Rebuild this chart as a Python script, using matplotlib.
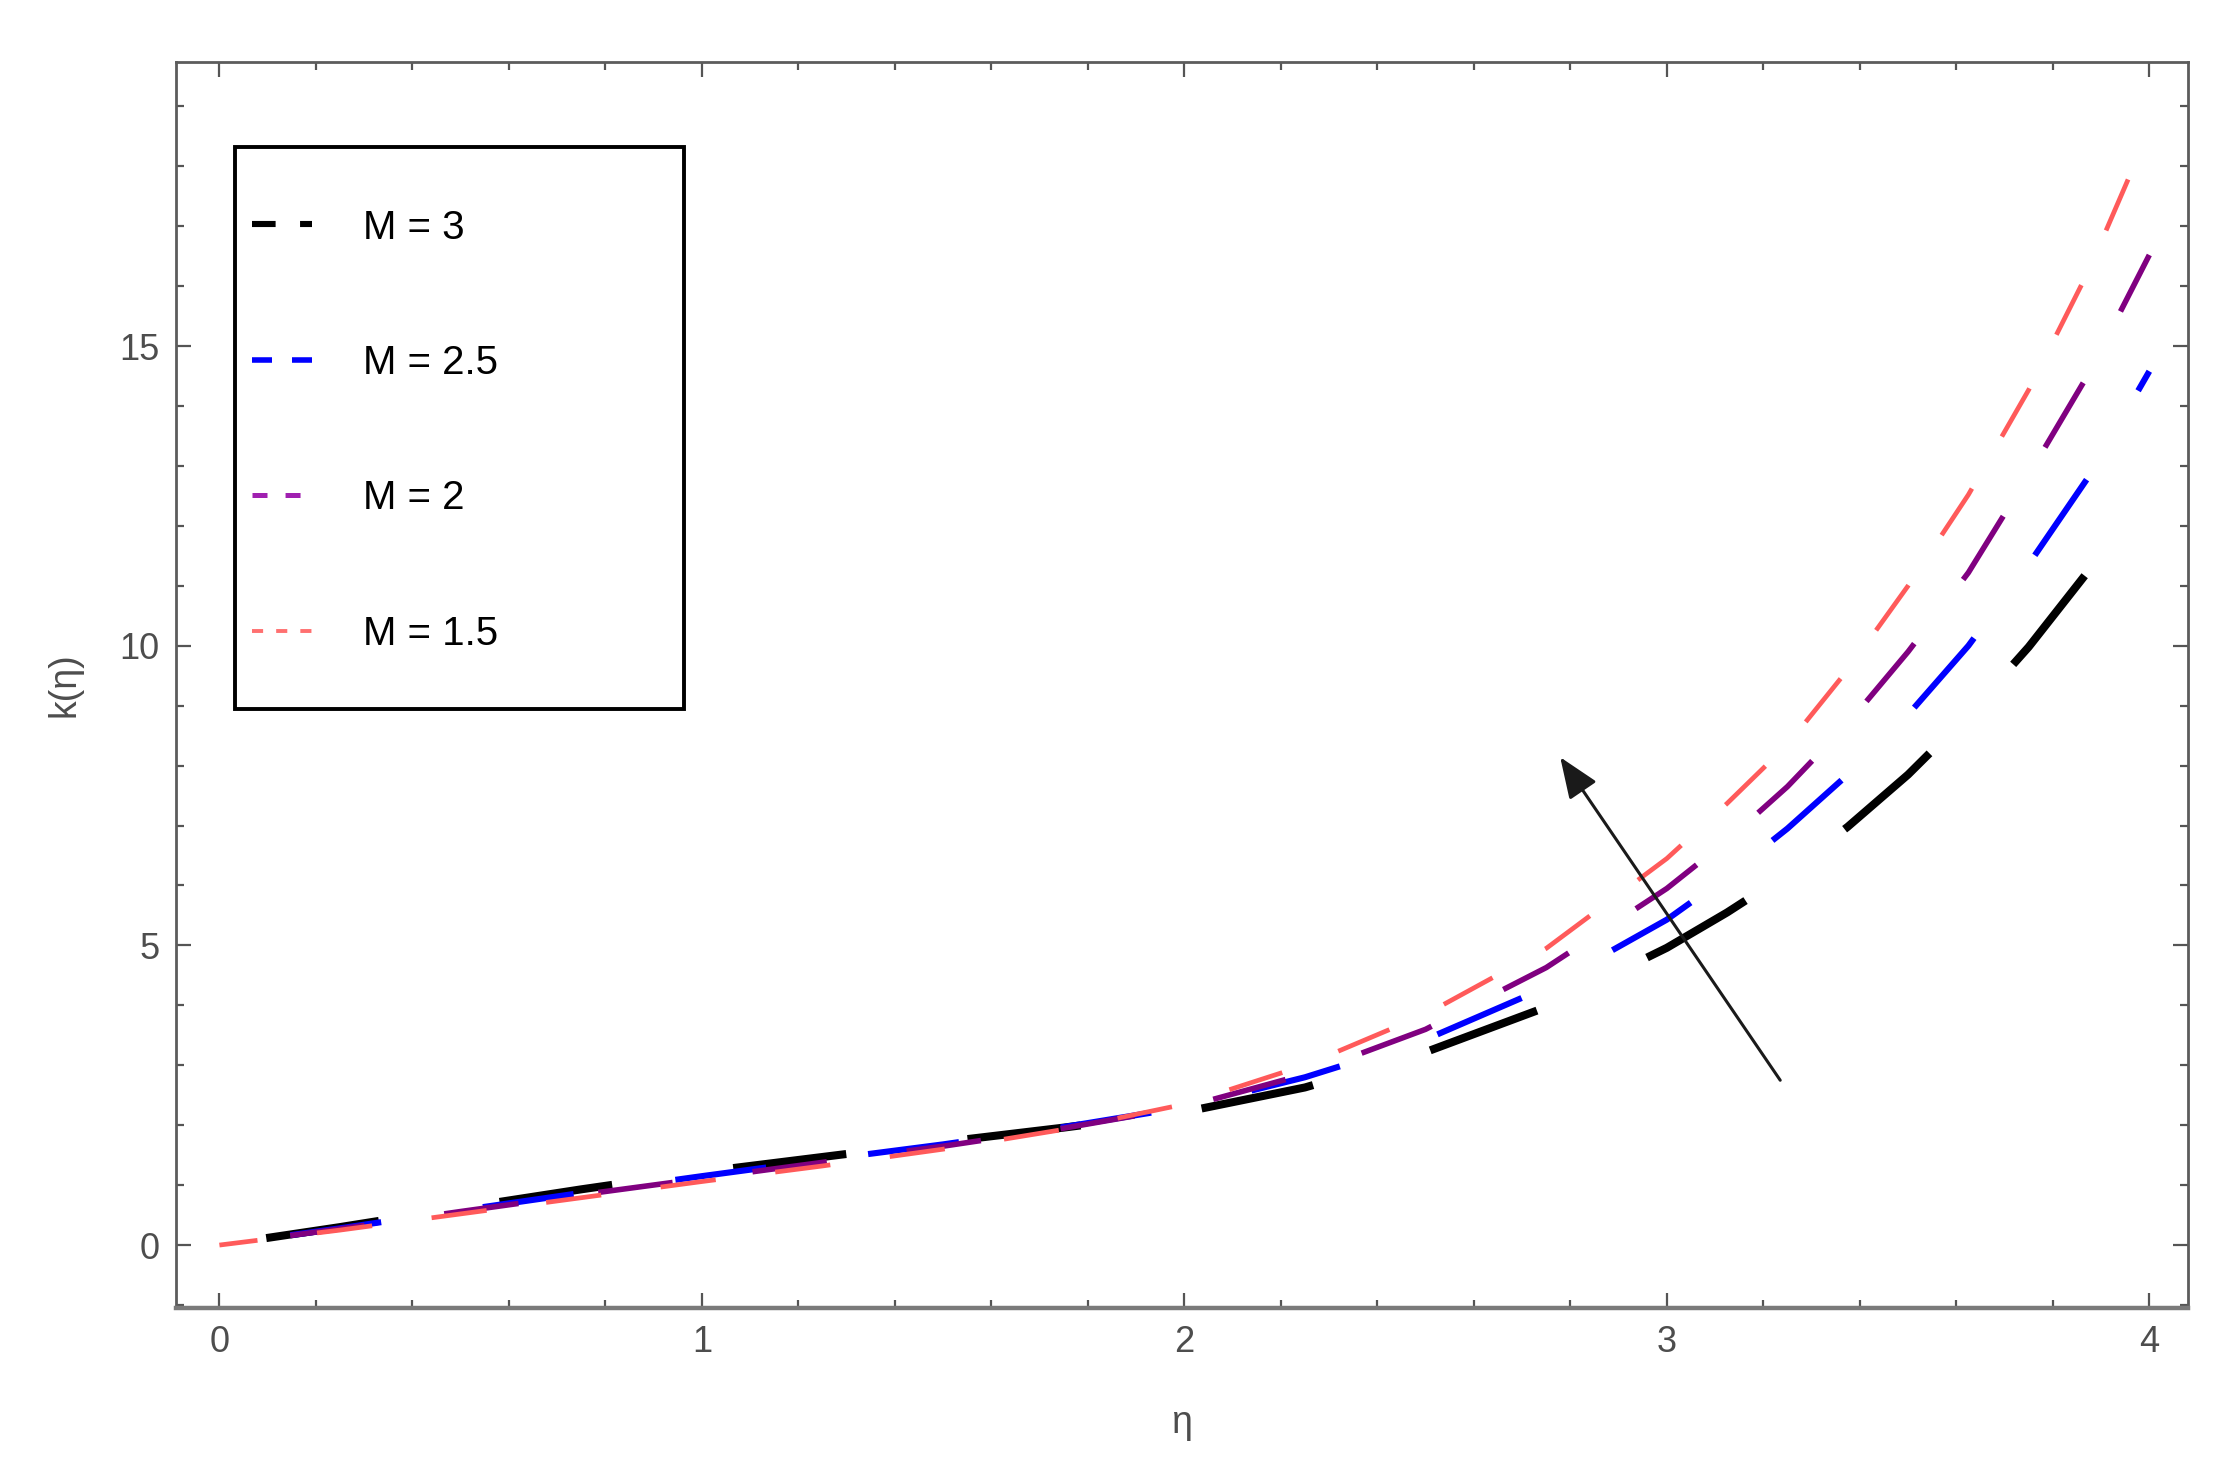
import numpy as np
import matplotlib
matplotlib.use('Agg')
import matplotlib.pyplot as plt
from matplotlib.lines import Line2D
from matplotlib.patches import Rectangle
from matplotlib.ticker import MultipleLocator

plt.rcParams['font.family'] = ['Liberation Sans', 'DejaVu Sans']
plt.rcParams['lines.scale_dashes'] = False

# values
eta = [0, 0.25, 0.5, 0.75, 1.0, 1.25, 1.5, 1.75, 2.0, 2.25, 2.5, 2.75,
       3.0, 3.125, 3.25, 3.375, 3.5, 3.625, 3.75, 3.875, 4.0]
k_m3 = [0, 0.30, 0.62, 0.93, 1.22, 1.47, 1.72, 1.96, 2.22, 2.63, 3.22, 3.97,
        4.96, 5.55, 6.20, 6.98, 7.85, 8.85, 9.98, 11.26, 12.7]
k_m25 = [0, 0.28, 0.58, 0.87, 1.15, 1.42, 1.68, 1.97, 2.30, 2.80, 3.43, 4.30,
         5.43, 6.15, 6.95, 7.85, 8.85, 10.0, 11.36, 12.83, 14.58]
k_m2 = [0, 0.27, 0.56, 0.84, 1.11, 1.38, 1.65, 1.95, 2.30, 2.85, 3.60, 4.63,
        5.95, 6.75, 7.65, 8.70, 9.90, 11.22, 12.85, 14.55, 16.52]
k_m15 = [0, 0.25, 0.52, 0.79, 1.06, 1.32, 1.60, 1.93, 2.35, 3.00, 3.85, 4.95,
         6.45, 7.37, 8.35, 9.60, 11.0, 12.52, 14.27, 16.27, 18.6]

labels = ['M = 3', 'M = 2.5', 'M = 2', 'M = 1.5']
series = [k_m3, k_m25, k_m2, k_m15]
colors = ['black', '#0000ff', '#800080', '#ff5a5a']
widths = [2.9, 2.2, 2.0, 1.7]
dashes = [(41, 44), (33, 37), (27, 29), (20, 21.6)]
dash_end = [3.866, 3.870, 3.863, 3.956]   # eta where a dash ends near the top

leg_colors = ['black', '#0000ff', '#a020b0', '#ff7070']
leg_dashes = [(8.5, 8.8), (7.2, 7.2), (5.4, 6.5), (4.0, 4.7)]
leg_widths = [2.2, 2.0, 1.8, 1.4]

arrow_tail = (3.235, 2.75)
arrow_tip = (2.779, 8.14)

fig = plt.figure(figsize=(11.16, 7.345), dpi=200)
ax = fig.add_axes([0.07885, 0.1096, 0.9014, 0.8482])
ax.set_xlim(-0.09, 4.08)
ax.set_ylim(-1.05, 19.74)


def arc_points(x, y):
    pix = ax.transData.transform(np.column_stack([x, y]))
    seg = np.hypot(*np.diff(pix, axis=0).T)
    return np.concatenate([[0], np.cumsum(seg)]) * 72.0 / fig.dpi


for vals, c, w, (on, off), e_end in zip(series, colors, widths, dashes, dash_end):
    s = arc_points(eta, vals)
    s_end = np.interp(e_end, eta, s)
    offset = (on - s_end) % (on + off)
    ax.plot(eta, vals, color=c, lw=w, linestyle=(offset, (on, off)),
            solid_capstyle='butt', dash_capstyle='butt')

ax.annotate('', xy=arrow_tip, xytext=arrow_tail,
            arrowprops=dict(arrowstyle='-|>,head_length=0.45,head_width=0.18',
                            lw=1.1, color='#1a1a1a', mutation_scale=28,
                            shrinkA=0, shrinkB=0))

# legend box
ax.add_patch(Rectangle((0.0293, 0.4807), 0.2232, 0.4511, transform=ax.transAxes,
                       facecolor='white', edgecolor='black', lw=1.4, zorder=3))
handles = [Line2D([], [], color=c, lw=w, linestyle=(0, d))
           for c, w, d in zip(leg_colors, leg_widths, leg_dashes)]
leg = ax.legend(handles, labels, loc='upper left', bbox_to_anchor=(0.0378, 0.8824),
                frameon=False, borderpad=0, borderaxespad=0, handlelength=1.5,
                handletextpad=1.25, labelspacing=2.42, fontsize=14.5)
leg.set_zorder(4)

ax.xaxis.set_major_locator(MultipleLocator(1))
ax.xaxis.set_minor_locator(MultipleLocator(0.2))
ax.yaxis.set_major_locator(MultipleLocator(5))
ax.yaxis.set_minor_locator(MultipleLocator(1))
ax.tick_params(which='both', direction='in', top=True, right=True,
               labeltop=False, labelright=False, color='#555555', width=0.8)
ax.tick_params(which='major', length=5.4, pad=6, labelsize=13, labelcolor='#4d4d4d')
ax.tick_params(which='minor', length=3.0)
for side in ['left', 'right', 'top']:
    ax.spines[side].set_color('#5c5c5c')
    ax.spines[side].set_linewidth(1.0)
ax.spines['bottom'].set_color('#7a7a7a')
ax.spines['bottom'].set_linewidth(1.6)

ax.set_xlabel('η', fontsize=13.5, color='#4d4d4d', va='center')
ax.xaxis.set_label_coords(0.5, -0.0923)
ax.set_ylabel('k(η)', fontsize=13.5, color='#4d4d4d', va='center')
ax.yaxis.set_label_coords(-0.0554, 0.5)

fig.savefig('out.png', dpi=200)
